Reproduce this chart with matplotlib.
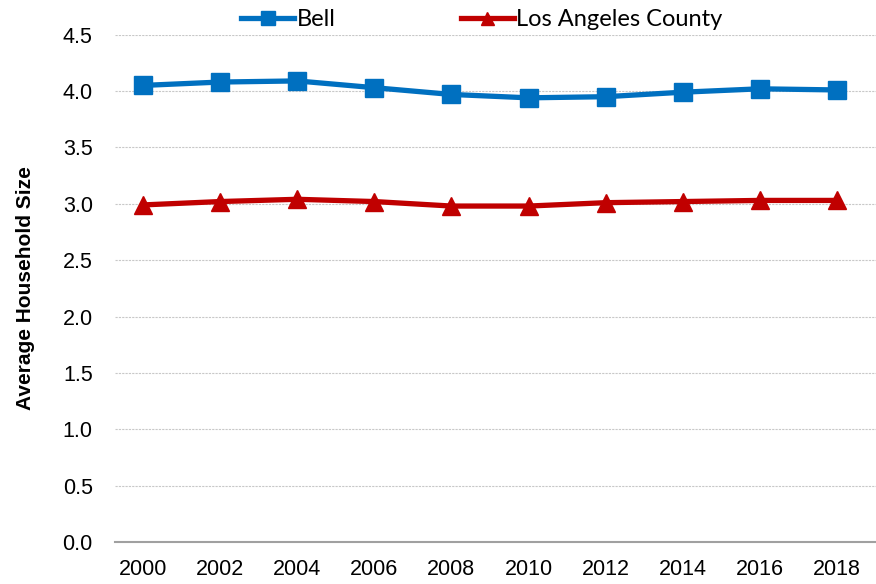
import matplotlib
matplotlib.use("Agg")
import matplotlib.pyplot as plt
import numpy as np

years = ["2000", "2002", "2004", "2006", "2008", "2010", "2012", "2014", "2016", "2018"]
bell = [4.05, 4.08, 4.09, 4.03, 3.97, 3.94, 3.95, 3.99, 4.02, 4.01]
la_county = [2.99, 3.02, 3.04, 3.02, 2.98, 2.98, 3.01, 3.02, 3.03, 3.03]
y_ticks = [0.0, 0.5, 1.0, 1.5, 2.0, 2.5, 3.0, 3.5, 4.0, 4.5]

sans = ["Liberation Sans", "DejaVu Sans"]

fig = plt.figure(figsize=(8.76, 5.84), dpi=100)
ax = fig.add_axes([115 / 876, 1 - 542 / 584, 1 - 115 / 876, (542 - 34.7) / 584])

x = np.arange(len(years))
ax.plot(x, bell, color="#0070C0", linewidth=3.8, marker="s", markersize=13.5,
        label="Bell", zorder=3)
ax.plot(x, la_county, color="#C00000", linewidth=3.8, marker="^", markersize=13,
        label="Los Angeles County", zorder=3)

ax.set_xlim(-0.363, 9.506)
ax.set_ylim(0, 4.5)
ax.set_yticks(y_ticks)
ax.set_yticklabels([f"{v:.1f}" for v in y_ticks], family=sans, fontsize=15.5)
ax.set_xticks(x)
ax.set_xticklabels(years, family=sans, fontsize=15.5)
ax.tick_params(axis="y", length=0, pad=16)
ax.tick_params(axis="x", length=0, pad=12)

ax.grid(axis="y", color="#C8C8C8", linestyle=(0, (2, 1)), linewidth=0.8)
ax.set_axisbelow(True)
for s in ["top", "right", "left"]:
    ax.spines[s].set_visible(False)
ax.spines["bottom"].set_color("#A0A0A0")
ax.spines["bottom"].set_linewidth(1.5)

ax.set_ylabel("Average Household Size", family=sans, fontsize=15,
              fontweight="bold", labelpad=20)

ax.legend(loc="lower center", bbox_to_anchor=(0.482, 0.99), ncol=2, frameon=False,
          prop={"family": "Lato", "size": 17}, handlelength=2.25, markerscale=0.72,
          columnspacing=5.3, handletextpad=0.1, borderaxespad=0)

fig.savefig("out.png", dpi=100)
